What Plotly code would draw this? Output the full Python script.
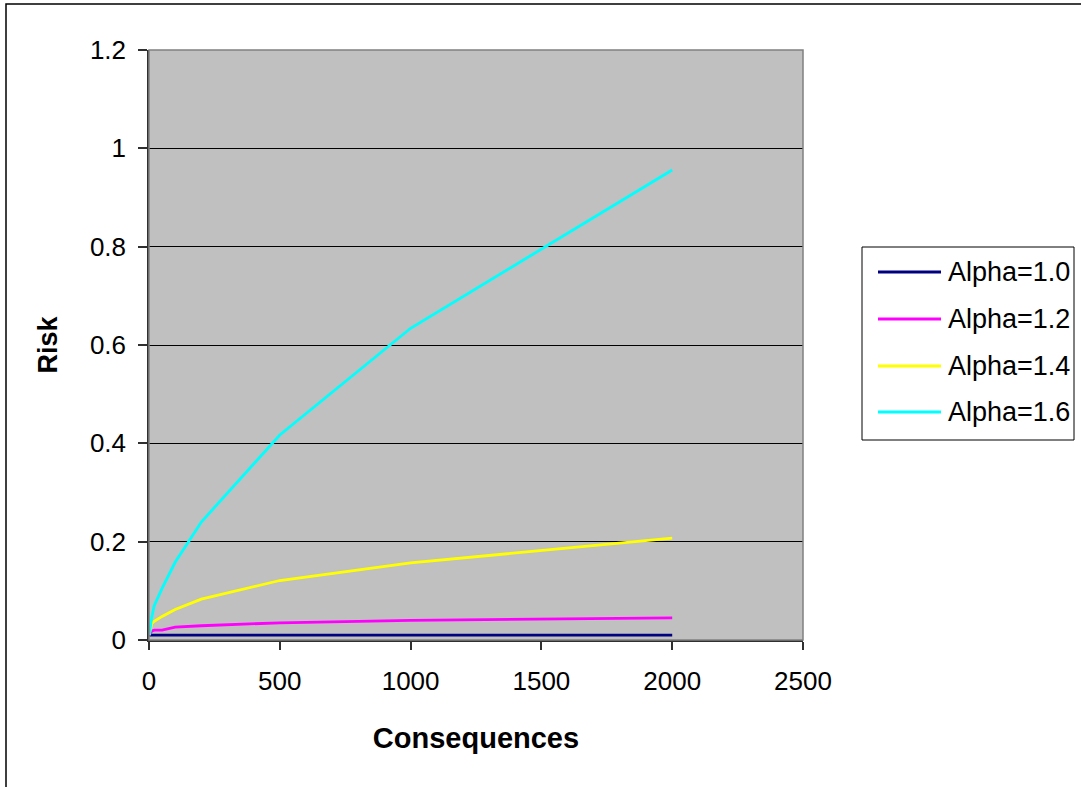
import plotly.graph_objects as go

# Consequence levels (x) shared by all series
consequences = [1, 10, 20, 50, 100, 200, 500, 1000, 2000]

# Risk values for each alpha
risk_a10 = [0.01, 0.01, 0.01, 0.01, 0.01, 0.01, 0.01, 0.01, 0.01]
risk_a12 = [0.01, 0.018, 0.02, 0.02, 0.026, 0.029, 0.035, 0.04, 0.045]
risk_a14 = [0.01, 0.033, 0.038, 0.048, 0.062, 0.083, 0.121, 0.157, 0.207]
risk_a16 = [0.01, 0.045, 0.07, 0.105, 0.158, 0.24, 0.417, 0.634, 0.956]

series_names = ["Alpha=1.0", "Alpha=1.2", "Alpha=1.4", "Alpha=1.6"]
series_values = [risk_a10, risk_a12, risk_a14, risk_a16]
series_colors = ["#000080", "#FF00FF", "#FFFF00", "#00FFFF"]

x_tick_vals = [0, 500, 1000, 1500, 2000, 2500]
x_tick_text = ["0", "500", "1000", "1500", "2000", "2500"]
y_tick_vals = [0, 0.2, 0.4, 0.6, 0.8, 1.0, 1.2]
y_tick_text = ["0", "0.2", "0.4", "0.6", "0.8", "1", "1.2"]

W, H = 1081, 787
L, R, T, B = 149, 803, 50, 640  # plot area in pixels
FONT = "Liberation Sans, Arial, sans-serif"


def px_x(px):
    return (px - L) / (R - L)


def px_y(py):
    return (B - py) / (B - T)


fig = go.Figure()
for name, vals, col in zip(series_names, series_values, series_colors):
    fig.add_trace(go.Scatter(
        x=consequences, y=vals, name=name, mode="lines",
        line=dict(color=col, width=2.8), showlegend=False,
    ))

shapes = []
annotations = []

# outer chart-area frame
shapes.append(dict(type="rect", xref="paper", yref="paper",
                   x0=px_x(6), x1=px_x(1200), y0=px_y(4), y1=px_y(900),
                   line=dict(color="black", width=1.5), layer="below"))

# plot-area border
shapes.append(dict(type="rect", xref="paper", yref="paper",
                   x0=0, x1=1, y0=0, y1=1,
                   line=dict(color="#808080", width=1.5), layer="above"))

# legend box with line samples and labels
shapes.append(dict(type="rect", xref="paper", yref="paper",
                   x0=px_x(862), x1=px_x(1074), y0=px_y(440), y1=px_y(247),
                   line=dict(color="black", width=1), fillcolor="white"))
legend_rows = [272, 319, 366, 412]
for name, col, ry in zip(series_names, series_colors, legend_rows):
    shapes.append(dict(type="line", xref="paper", yref="paper",
                       x0=px_x(878), x1=px_x(941), y0=px_y(ry), y1=px_y(ry),
                       line=dict(color=col, width=2.8)))
    annotations.append(dict(xref="paper", yref="paper", x=px_x(946), y=px_y(ry),
                            text=name, showarrow=False, xanchor="left",
                            yanchor="middle",
                            font=dict(family=FONT, size=27, color="black")))

fig.update_layout(
    width=W, height=H,
    margin=dict(l=L, r=W - R, t=T, b=H - B, pad=0),
    paper_bgcolor="white",
    plot_bgcolor="#C0C0C0",
    font=dict(family=FONT, size=26, color="black"),
    shapes=shapes,
    annotations=annotations,
    xaxis=dict(
        range=[0, 2500], tickvals=x_tick_vals, ticktext=x_tick_text,
        showgrid=False, zeroline=False,
        showline=True, linecolor="#303030", linewidth=1.5,
        ticks="outside", ticklen=8, tickcolor="#303030", tickwidth=1.5,
        ticklabelstandoff=9,
        title=dict(text="<b>Consequences</b>", font=dict(size=29), standoff=33),
    ),
    yaxis=dict(
        range=[0, 1.2], tickvals=y_tick_vals, ticktext=y_tick_text,
        showgrid=True, gridcolor="black", gridwidth=1, zeroline=False,
        showline=True, linecolor="#303030", linewidth=1.5,
        ticks="outside", ticklen=9, tickcolor="#303030", tickwidth=1.5,
        ticklabelstandoff=7,
        title=dict(text="<b>Risk</b>", font=dict(size=27), standoff=24),
    ),
)

fig.write_html("out.html")
